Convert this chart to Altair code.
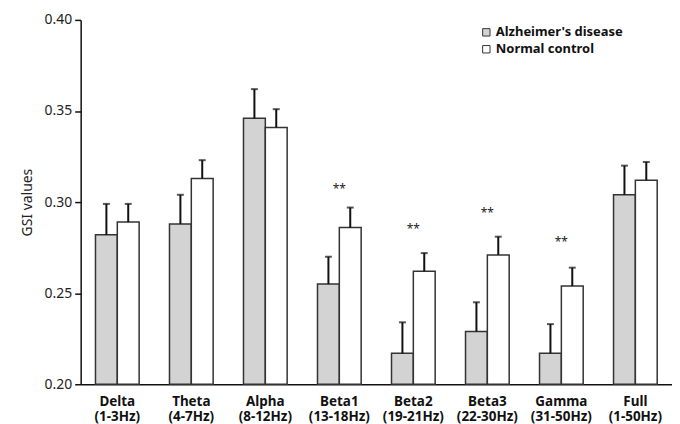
import altair as alt
import pandas as pd

cats = ["Delta (1-3Hz)", "Theta (4-7Hz)", "Alpha (8-12Hz)", "Beta1 (13-18Hz)",
        "Beta2 (19-21Hz)", "Beta3 (22-30Hz)", "Gamma (31-50Hz)", "Full (1-50Hz)"]
groups = ["Alzheimer's disease", "Normal control"]
ad = [0.282, 0.288, 0.346, 0.255, 0.217, 0.229, 0.217, 0.304]
ad_err = [0.017, 0.016, 0.016, 0.015, 0.017, 0.016, 0.016, 0.016]
nc = [0.289, 0.313, 0.341, 0.286, 0.262, 0.271, 0.254, 0.312]
nc_err = [0.010, 0.010, 0.010, 0.011, 0.010, 0.010, 0.010, 0.010]
star_cats = ["Beta1 (13-18Hz)", "Beta2 (19-21Hz)", "Beta3 (22-30Hz)", "Gamma (31-50Hz)"]
star_y = [0.307, 0.285, 0.294, 0.278]

rows = []
for i, c in enumerate(cats):
    rows.append({"cat": c, "group": groups[0], "value": ad[i], "top": ad[i] + ad_err[i], "base": 0.2})
    rows.append({"cat": c, "group": groups[1], "value": nc[i], "top": nc[i] + nc_err[i], "base": 0.2})
df = pd.DataFrame(rows)
stars = pd.DataFrame({"cat": star_cats, "sy": star_y})

FONT = "Noto Sans"

x = alt.X("cat:N", sort=cats,
          scale=alt.Scale(paddingInner=0.41, paddingOuter=0.2),
          axis=alt.Axis(title=None, labelExpr="split(datum.label, ' ')", ticks=False,
                        labelAngle=0, labelFontWeight="bold", labelFontSize=13.5,
                        labelColor="#111", labelPadding=10, labelLineHeight=15,
                        domainColor="#111", domainWidth=1.5, labelFont=FONT))
xoff = alt.XOffset("group:N", sort=groups, scale=alt.Scale(paddingInner=0, paddingOuter=0))
yscale = alt.Scale(domain=[0.2, 0.4], zero=False, nice=False)

base = alt.Chart(df)

bars = base.mark_bar(stroke="#333", strokeWidth=1.5).encode(
    x=x, xOffset=xoff,
    y=alt.Y("value:Q", scale=yscale,
            axis=alt.Axis(values=[0.2, 0.25, 0.3, 0.35, 0.4], format=".2f", tickSize=6,
                          tickColor="#111", tickWidth=1.5, domainColor="#111", domainWidth=1.5,
                          labelFontSize=14, labelColor="#222", labelPadding=3, labelFont=FONT,
                          title="GSI values", titleFontWeight="normal", titleFontSize=14,
                          titleColor="#222", titlePadding=10, titleFont=FONT, grid=False)),
    y2="base:Q",
    fill=alt.Fill("group:N", sort=groups,
                  scale=alt.Scale(domain=groups, range=["#d3d3d3", "#ffffff"]),
                  legend=alt.Legend(title=None, orient="none", legendX=401, legendY=6,
                                    symbolType="square", symbolSize=55,
                                    symbolStrokeColor="#333", symbolStrokeWidth=1,
                                    labelFontSize=13, labelFontWeight="bold", labelFont=FONT,
                                    labelColor="#111", rowPadding=3, labelOffset=3)),
)

rules = base.mark_rule(color="#111", strokeWidth=2).encode(
    x=x, xOffset=xoff, y=alt.Y("value:Q", scale=yscale), y2="top:Q")

caps = base.mark_tick(color="#111", thickness=2, size=7).encode(
    x=x, xOffset=xoff, y=alt.Y("top:Q", scale=yscale))

star_text = alt.Chart(stars).mark_text(text="**", fontSize=12, color="#222", font=FONT).encode(
    x=alt.X("cat:N", sort=cats), y=alt.Y("sy:Q", scale=yscale))

chart = alt.layer(bars, rules, caps, star_text).properties(
    width=594, height=366,
    autosize="none",
    padding={"left": 73, "top": 11, "right": 0, "bottom": 46},
).configure_view(stroke=None)

chart.save("out.html", embed_options={"renderer": "svg", "actions": False})
